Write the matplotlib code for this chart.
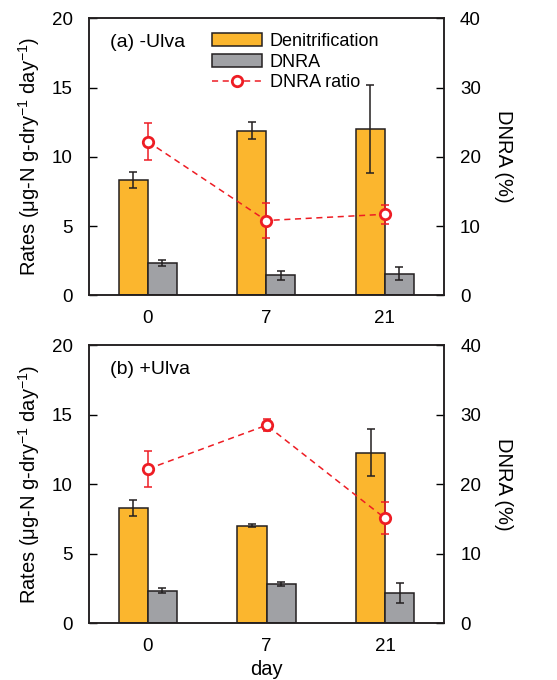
import matplotlib
matplotlib.use("Agg")
import matplotlib.pyplot as plt
import numpy as np
from matplotlib.lines import Line2D
from matplotlib.patches import Patch

plt.rcParams['font.family'] = ['Liberation Sans', 'DejaVu Sans']
plt.rcParams['mathtext.fontset'] = 'custom'
plt.rcParams['mathtext.rm'] = 'Liberation Sans'
plt.rcParams['mathtext.it'] = 'Liberation Sans:italic'
plt.rcParams['mathtext.bf'] = 'Liberation Sans:bold'

days = ["0", "7", "21"]

denit_a = [8.33, 11.89, 12.01]
denit_a_err = [0.56, 0.59, 3.15]
dnra_a = [2.33, 1.44, 1.56]
dnra_a_err = [0.2, 0.32, 0.45]
ratio_a = [22.2, 10.8, 11.7]
ratio_a_err = [2.7, 2.55, 1.4]

denit_b = [8.30, 7.03, 12.28]
denit_b_err = [0.59, 0.1, 1.7]
dnra_b = [2.35, 2.81, 2.18]
dnra_b_err = [0.19, 0.15, 0.7]
ratio_b = [22.2, 28.5, 15.1]
ratio_b_err = [2.66, 0.85, 2.3]

ORANGE = '#FBB62E'
GRAY = '#A0A1A5'
RED = '#EE1D24'
EDGE = '#231F20'

fig = plt.figure(figsize=(5.57, 6.8), dpi=100)

YLABEL = 'Rates (\u03bcg-N g-dry$^{\\mathrm{-1}}$ day$^{\\mathrm{-1}}$)'

def panel(rect, denit, denit_err, dnra, dnra_err, ratio, ratio_err, label, legend, xlabel):
    ax = fig.add_axes(rect)
    x = np.arange(len(days))
    w = 0.245
    ax.bar(x - w/2, denit, w, color=ORANGE, edgecolor=EDGE, linewidth=1.1, zorder=2)
    ax.bar(x + w/2, dnra, w, color=GRAY, edgecolor=EDGE, linewidth=1.1, zorder=2)
    ax.errorbar(x - w/2, denit, yerr=denit_err, fmt='none', ecolor=EDGE, elinewidth=1.1, capsize=3, capthick=1.1, zorder=3)
    ax.errorbar(x + w/2, dnra, yerr=dnra_err, fmt='none', ecolor=EDGE, elinewidth=1.1, capsize=3, capthick=1.1, zorder=3)
    ax.set_xlim(-0.5, 2.5)
    ax.set_ylim(0, 20)
    ax.set_yticks([0, 5, 10, 15, 20])
    ax.set_xticks(x)
    ax.set_xticklabels(days)
    ax.tick_params(axis='y', direction='in', length=6, width=1.0, labelsize=13.5, pad=11.5)
    ax.tick_params(axis='x', length=0, labelsize=13.5, pad=10.5)
    for s in ax.spines.values():
        s.set_linewidth(1.1)
        s.set_color(EDGE)
    ax.set_ylabel(YLABEL, fontsize=14.5, labelpad=7)
    if xlabel:
        ax.set_xlabel('day', fontsize=14.5, labelpad=3.5)
    ax2 = ax.twinx()
    ax2.set_ylim(0, 40)
    ax2.set_yticks([0, 10, 20, 30, 40])
    ax2.tick_params(axis='y', direction='in', length=6, width=1.0, labelsize=13.5, pad=11.5)
    ax2.errorbar(x, ratio, yerr=ratio_err, fmt='none', ecolor=RED, elinewidth=1.1, capsize=3, capthick=1.1, zorder=3)
    ax2.plot(x, ratio, color=RED, linestyle=(0, (4, 3)), linewidth=1.1, marker='o', markersize=7.5,
             markerfacecolor='white', markeredgecolor=RED, markeredgewidth=2, zorder=4)
    ax2.set_ylabel('DNRA (%)', fontsize=14.5, rotation=270, labelpad=23)
    for s in ax2.spines.values():
        s.set_linewidth(1.1)
        s.set_color(EDGE)
    ax2.text(0.06, 0.913, label, transform=ax.transAxes, fontsize=14, va='center', ha='left')
    if legend:
        handles = [Patch(facecolor=ORANGE, edgecolor=EDGE, linewidth=1.1),
                   Patch(facecolor=GRAY, edgecolor=EDGE, linewidth=1.1),
                   Line2D([], [], color=RED, linestyle=(0, (4, 3)), linewidth=1.1, marker='o', markersize=7.5,
                          markerfacecolor='white', markeredgecolor=RED, markeredgewidth=2)]
        ax2.legend(handles, ['Denitrification', 'DNRA', 'DNRA ratio'], loc='upper left',
                   bbox_to_anchor=(0.347, 0.947), frameon=False, fontsize=13,
                   handlelength=2.8, handleheight=0.7, handletextpad=0.4, labelspacing=0.2,
                   borderaxespad=0, borderpad=0)
    return ax

panel([0.159, 0.5657, 0.638, 0.4074], denit_a, denit_a_err, dnra_a, dnra_a_err, ratio_a, ratio_a_err,
      '(a) -Ulva', True, False)
panel([0.159, 0.0834, 0.639, 0.4088], denit_b, denit_b_err, dnra_b, dnra_b_err, ratio_b, ratio_b_err,
      '(b) +Ulva', False, True)

fig.savefig('out.png', dpi=100)
